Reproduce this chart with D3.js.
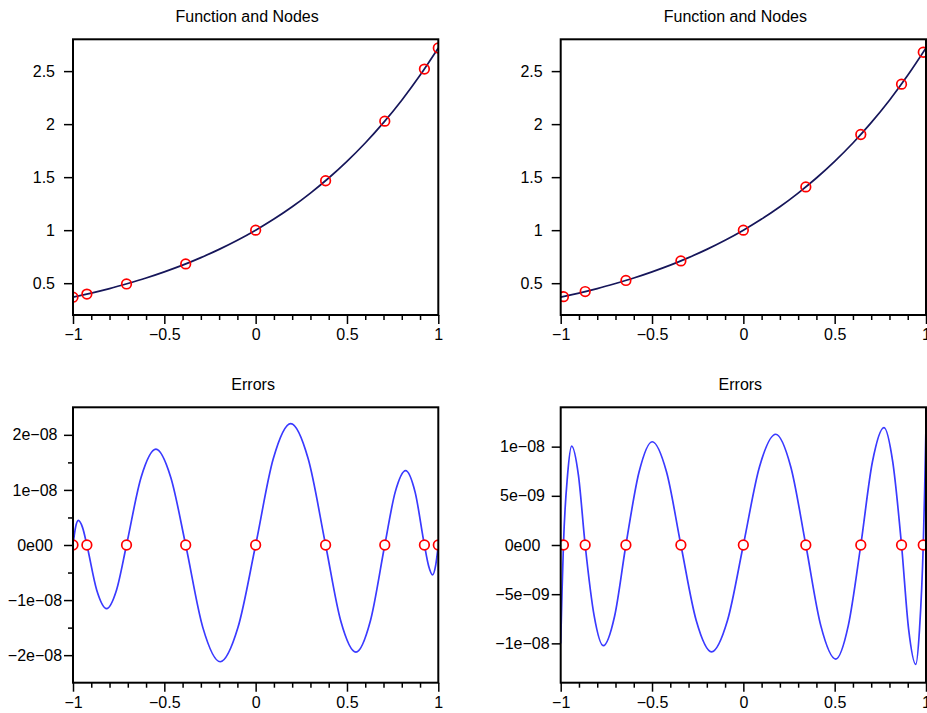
<!DOCTYPE html>
<html>
<head>
<meta charset="utf-8">
<script src="https://cdn.jsdelivr.net/npm/d3@7"></script>
<style>
  body { margin: 0; background: #fff; }
  svg text { font-family: "Liberation Sans", Arial, sans-serif; fill: #000; }
</style>
</head>
<body>
<svg id="chart" width="927" height="713"></svg>
<script>
// ---- data ----
var xMajorTicks = [-1, -0.5, 0, 0.5, 1];
var xMajorLabels = ['\u22121', '\u22120.5', '0', '0.5', '1'];
var xMinorTicks = [-0.9, -0.8, -0.7, -0.6, -0.4, -0.3, -0.2, -0.1, 0.1, 0.2, 0.3, 0.4, 0.6, 0.7, 0.8, 0.9];

var fnTicks = [0.5, 1, 1.5, 2, 2.5];
var fnTickLabels = ['0.5', '1', '1.5', '2', '2.5'];

var errLeftTicks = [-2e-8, -1e-8, 0, 1e-8, 2e-8];
var errLeftTickLabels = ['\u22122e\u221208', '\u22121e\u221208', '0e00', '1e\u221208', '2e\u221208'];
var errLeftMinor = [-1.5e-8, -0.5e-8, 0.5e-8, 1.5e-8];

var errRightTicks = [-1e-8, -5e-9, 0, 5e-9, 1e-8];
var errRightTickLabels = ['\u22121e\u221208', '\u22125e\u221209', '0e00', '5e\u221209', '1e\u221208'];

// the function (same on both top panels)
var fnX = [-1, -0.9, -0.8, -0.7, -0.6, -0.5, -0.4, -0.3, -0.2, -0.1, 0, 0.1, 0.2, 0.3, 0.4, 0.5, 0.6, 0.7, 0.8, 0.9, 1];
var fnY = [0.368, 0.407, 0.449, 0.497, 0.549, 0.607, 0.670, 0.741, 0.819, 0.905, 1, 1.105, 1.221, 1.350, 1.492, 1.649, 1.822, 2.014, 2.226, 2.460, 2.718];

// nodes, left column
var nodesLeftX = [-1, -0.924, -0.707, -0.383, 0, 0.383, 0.707, 0.924, 1];
var nodesLeftY = [0.368, 0.397, 0.493, 0.682, 1, 1.466, 2.028, 2.519, 2.718];
// nodes, right column
var nodesRightX = [-0.985, -0.866, -0.643, -0.342, 0, 0.342, 0.643, 0.866, 0.985];
var nodesRightY = [0.373, 0.421, 0.526, 0.710, 1, 1.408, 1.902, 2.377, 2.678];

// error curves
var errLeftX = [-1, -0.986, -0.971, -0.948, -0.924, -0.870, -0.816, -0.762, -0.707, -0.627, -0.546, -0.465, -0.383,
  -0.289, -0.194, -0.097, 0, 0.096, 0.192, 0.288, 0.383, 0.466, 0.549, 0.628, 0.707, 0.764, 0.821, 0.873, 0.924,
  0.947, 0.969, 0.985, 1];
var errLeftY = [0, 0.32e-8, 0.446e-8, 0.32e-8, 0, -0.82e-8, -1.154e-8, -0.82e-8, 0, 1.23e-8, 1.739e-8, 1.23e-8, 0,
  -1.50e-8, -2.12e-8, -1.50e-8, 0, 1.56e-8, 2.203e-8, 1.56e-8, 0, -1.38e-8, -1.946e-8, -1.38e-8, 0, 0.96e-8, 1.351e-8,
  0.96e-8, 0, -0.38e-8, -0.543e-8, -0.38e-8, 0];

var errRightX = [-1, -0.9925, -0.985, -0.9625, -0.940, -0.903, -0.866, -0.8165, -0.767, -0.705, -0.643, -0.571, -0.499,
  -0.4205, -0.342, -0.258, -0.174, -0.087, 0, 0.0885, 0.177, 0.2595, 0.342, 0.424, 0.506, 0.5745, 0.643, 0.7065, 0.770,
  0.818, 0.866, 0.905, 0.944, 0.9645, 0.985, 0.9925, 1];
var errRightY = [-10.0e-9, -4.6e-9, 0, 7.1e-9, 10.06e-9, 7.1e-9, 0, -7.24e-9, -10.24e-9, -7.24e-9, 0, 7.42e-9, 10.5e-9,
  7.42e-9, 0, -7.68e-9, -10.86e-9, -7.68e-9, 0, 7.96e-9, 11.26e-9, 7.96e-9, 0, -8.2e-9, -11.6e-9, -8.2e-9, 0, 8.44e-9,
  11.94e-9, 8.44e-9, 0, -8.58e-9, -12.14e-9, -8.58e-9, 0, 5.5e-9, 12.2e-9];

// ---- drawing ----
var svg = d3.select('#chart');
var fontSize = 16;

function pairs(xs, ys) {
  return xs.map(function (d, i) { return [d, ys[i]]; });
}

function drawPanel(p, idx) {
  var g = svg.append('g');
  var x = d3.scaleLinear().domain([-1, 1]).range([p.left, p.right]);
  var y = d3.scaleLinear().domain(p.yDomain).range([p.bottom, p.top]);

  g.append('clipPath').attr('id', 'clip' + idx)
    .append('rect')
    .attr('x', p.left).attr('y', p.top)
    .attr('width', p.right - p.left).attr('height', p.bottom - p.top);

  g.append('text')
    .attr('x', (p.left + p.right) / 2 + p.titleDx)
    .attr('y', p.top - 17.6)
    .attr('text-anchor', 'middle')
    .attr('font-size', fontSize)
    .text(p.title);

  var plot = g.append('g').attr('clip-path', 'url(#clip' + idx + ')');

  var line = d3.line()
    .x(function (d) { return x(d[0]); })
    .y(function (d) { return y(d[1]); })
    .curve(p.curve);

  plot.append('path')
    .datum(p.line)
    .attr('d', line)
    .attr('fill', 'none')
    .attr('stroke', p.lineColor)
    .attr('stroke-width', 1.7);

  plot.selectAll('circle')
    .data(p.nodes)
    .enter()
    .append('circle')
    .attr('cx', function (d) { return x(d[0]); })
    .attr('cy', function (d) { return y(d[1]); })
    .attr('r', 4.8)
    .attr('fill', p.markerFill)
    .attr('stroke', '#ff0000')
    .attr('stroke-width', 1.7);

  // x axis: minor then major
  var xMinor = g.append('g')
    .attr('transform', 'translate(0,' + p.bottom + ')')
    .call(d3.axisBottom(x).tickValues(xMinorTicks).tickSize(5).tickFormat(''));
  var xMajor = g.append('g')
    .attr('transform', 'translate(0,' + p.bottom + ')')
    .call(d3.axisBottom(x).tickValues(xMajorTicks).tickSize(9).tickPadding(5)
      .tickFormat(function (d, i) { return xMajorLabels[i]; }));

  var yMajor = g.append('g')
    .attr('transform', 'translate(' + p.left + ',0)')
    .call(d3.axisLeft(y).tickValues(p.yTicks).tickSize(9).tickPadding(9)
      .tickFormat(function (d, i) { return p.yLabels[i]; }));

  var axes = [xMinor, xMajor, yMajor];
  if (p.yMinor) {
    axes.push(g.append('g')
      .attr('transform', 'translate(' + p.left + ',0)')
      .call(d3.axisLeft(y).tickValues(p.yMinor).tickSize(5).tickFormat('')));
  }

  axes.forEach(function (a) {
    a.select('.domain').remove();
    a.attr('font-size', fontSize).attr('font-family', '"Liberation Sans", Arial, sans-serif');
    a.selectAll('.tick line').attr('stroke', '#000').attr('stroke-width', 1.5);
    a.selectAll('.tick text').attr('fill', '#000');
  });

  if (p.centerYLabels) {
    yMajor.selectAll('.tick text')
      .attr('text-anchor', 'middle')
      .attr('x', -p.labelCenter);
  }

  // frame
  g.append('rect')
    .attr('x', p.left).attr('y', p.top)
    .attr('width', p.right - p.left).attr('height', p.bottom - p.top)
    .attr('fill', 'none')
    .attr('stroke', '#000')
    .attr('stroke-width', 2);
}

var panels = [
  {
    left: 73, right: 438.3, top: 39.3, bottom: 315, yDomain: [0.2, 2.8],
    yTicks: fnTicks, yLabels: fnTickLabels, title: 'Function and Nodes', titleDx: -8.5,
    line: pairs(fnX, fnY), nodes: pairs(nodesLeftX, nodesLeftY),
    lineColor: '#16165a', markerFill: 'none', curve: d3.curveNatural
  },
  {
    left: 560.7, right: 926, top: 39.3, bottom: 315, yDomain: [0.2, 2.8],
    yTicks: fnTicks, yLabels: fnTickLabels, title: 'Function and Nodes', titleDx: -8,
    line: pairs(fnX, fnY), nodes: pairs(nodesRightX, nodesRightY),
    lineColor: '#16165a', markerFill: 'none', curve: d3.curveNatural
  },
  {
    left: 73, right: 438.3, top: 407.3, bottom: 682.7, yDomain: [-2.5e-8, 2.5e-8],
    yTicks: errLeftTicks, yLabels: errLeftTickLabels, yMinor: errLeftMinor,
    centerYLabels: true, labelCenter: 38, title: 'Errors', titleDx: -2.5,
    line: pairs(errLeftX, errLeftY), nodes: nodesLeftX.map(function (d) { return [d, 0]; }),
    lineColor: '#3a3aff', markerFill: '#fff', curve: d3.curveMonotoneX
  },
  {
    left: 560.7, right: 926, top: 407.3, bottom: 682.7, yDomain: [-1.4e-8, 1.4e-8],
    yTicks: errRightTicks, yLabels: errRightTickLabels,
    centerYLabels: true, labelCenter: 38.2, title: 'Errors', titleDx: -3,
    line: pairs(errRightX, errRightY), nodes: nodesRightX.map(function (d) { return [d, 0]; }),
    lineColor: '#3a3aff', markerFill: '#fff', curve: d3.curveMonotoneX
  }
];

panels.forEach(drawPanel);
</script>
</body>
</html>
